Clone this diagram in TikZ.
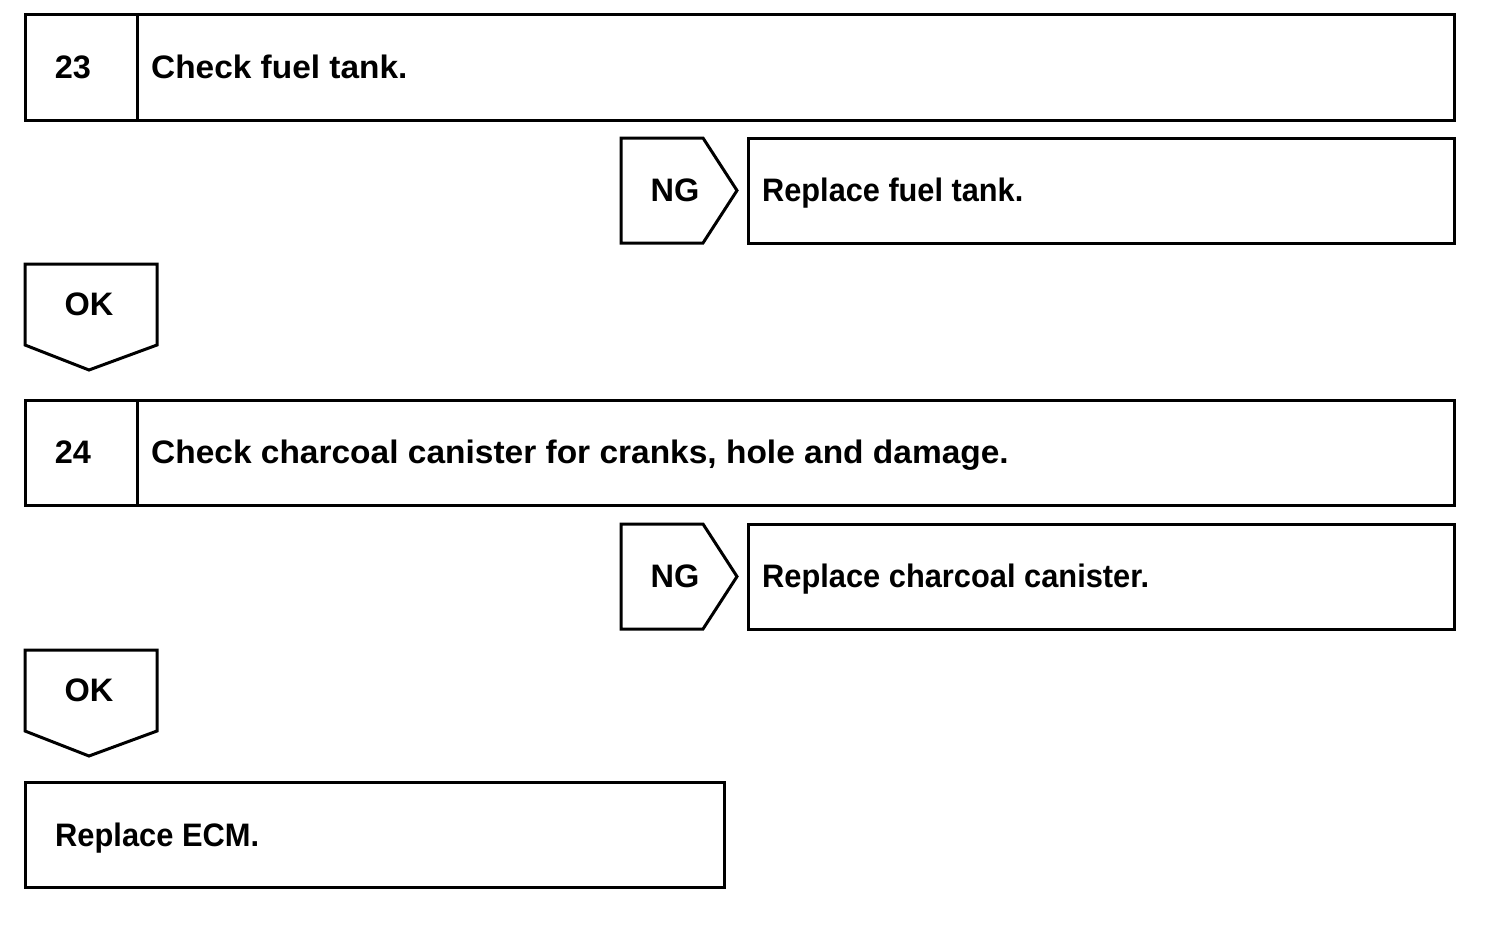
\documentclass[tikz,border=0pt]{standalone}
\usepackage{fontspec}
\usepackage{graphicx}
\setmainfont{Liberation Sans}
\begin{document}
\begin{tikzpicture}[x=1pt,y=-1pt,
  line/.style={draw=black,line width=3pt,line join=miter},
  txt/.style={inner sep=0pt,font=\fontsize{32.5}{36}\selectfont\bfseries,anchor=base west},
  ctxt/.style={inner sep=0pt,font=\fontsize{32.5}{36}\selectfont\bfseries,anchor=base}]
\useasboundingbox (0,0) rectangle (1504,926);
% step 23
\draw[line] (25,14) rectangle (1454,120);
\draw[line] (137,14) -- (137,120);
\node[ctxt] (n23) at (73,78.5) {23};
\node[txt] (t23) at (151,78.5) {\scalebox{1.028}[1]{Check fuel tank.}};
% NG 1
\draw[line] (621,138) -- (703,138) -- (737,190.5) -- (703,243) -- (621,243) -- cycle;
\node[ctxt] (ng1) at (675,201.5) {NG};
\draw[line] (748,138) rectangle (1454,243);
\node[txt] (r1) at (762,201.5) {\scalebox{0.945}[1]{Replace fuel tank.}};
% OK 1
\draw[line] (25,264) -- (157,264) -- (157,345) -- (89,370) -- (25,345) -- cycle;
\node[ctxt] (ok1) at (89,315.5) {OK};
% step 24
\draw[line] (25,400) rectangle (1454,505);
\draw[line] (137,400) -- (137,505);
\node[ctxt] (n24) at (73,463.5) {24};
\node[txt] (t24) at (151,463.5) {\scalebox{1.03}[1]{Check charcoal canister for cranks, hole and damage.}};
% NG 2
\draw[line] (621,524) -- (703,524) -- (737,576.5) -- (703,629) -- (621,629) -- cycle;
\node[ctxt] (ng2) at (675,587.5) {NG};
\draw[line] (748,524) rectangle (1454,629);
\node[txt] (r2) at (762,587.5) {\scalebox{0.948}[1]{Replace charcoal canister.}};
% OK 2
\draw[line] (25,650) -- (157,650) -- (157,731) -- (89,756) -- (25,731) -- cycle;
\node[ctxt] (ok2) at (89,701.5) {OK};
% final
\draw[line] (25,782) rectangle (724,887);
\node[txt] (ecm) at (55,846) {\scalebox{0.949}[1]{Replace ECM.}};
\end{tikzpicture}
\end{document}
